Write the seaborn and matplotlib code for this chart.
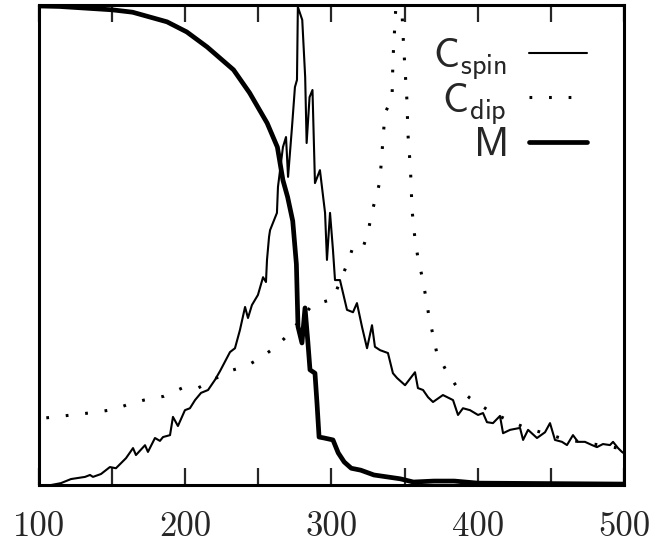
import numpy as np
import pandas as pd
import matplotlib
matplotlib.use("Agg")
import matplotlib.pyplot as plt
import seaborn as sns

# values (y is in arbitrary units, 0..1)
spin_T = [100, 108.2, 115, 121.9, 131.5, 134.9, 136.9, 142.4, 148.5, 152.6, 159.5, 164.3, 166.3,
          172.5, 174.5, 179.3, 182.7, 184.8, 189.6, 191.6, 195, 199.8, 203.2, 206.7, 210.8, 215.6,
          220.3, 223.8, 230.6, 234, 237.4, 240.9, 242.9, 245.6, 249.7, 253.2, 255.2, 255.9, 257.3,
          258, 262.7, 263.4, 266.8, 268.9, 270.3, 273, 275, 276.4, 277, 280, 282, 283, 285, 287,
          288.7, 292.1, 295.6, 296.9, 299, 301, 302.4, 305.8, 310.6, 314.7, 317.4, 320.9, 324.3,
          327.7, 329.7, 333.2, 338.6, 342, 344.8, 350.3, 357.1, 359.1, 362.6, 366, 369.4, 376.2,
          383.1, 386.5, 389.9, 394.7, 400.2, 403.6, 406.3, 410.4, 415.2, 417.3, 422.1, 428.9, 431,
          434.4, 440.5, 446, 449.4, 452.8, 457.6, 461, 465.1, 468.5, 473.3, 478.1, 481.5, 485.6,
          490.4, 492.5, 495.9, 498.6, 500]
spin_C = [0.0, 0.0, 0.004, 0.0125, 0.017, 0.021, 0.017, 0.023, 0.0375, 0.035, 0.056, 0.077, 0.0625,
          0.083, 0.069, 0.098, 0.092, 0.1, 0.104, 0.142, 0.123, 0.156, 0.16, 0.177, 0.192, 0.198,
          0.219, 0.2375, 0.277, 0.285, 0.323, 0.371, 0.348, 0.375, 0.396, 0.433, 0.423, 0.469, 0.517,
          0.531, 0.567, 0.621, 0.704, 0.725, 0.642, 0.746, 0.829, 0.844, 0.996, 0.969, 0.85, 0.7125,
          0.808, 0.823, 0.629, 0.656, 0.567, 0.469, 0.567, 0.49, 0.427, 0.427, 0.365, 0.36, 0.379,
          0.329, 0.285, 0.333, 0.288, 0.281, 0.275, 0.233, 0.223, 0.208, 0.235, 0.202, 0.198, 0.183,
          0.173, 0.1875, 0.177, 0.146, 0.16, 0.156, 0.146, 0.15, 0.131, 0.129, 0.144, 0.108, 0.115,
          0.119, 0.094, 0.115, 0.098, 0.11, 0.129, 0.094, 0.09, 0.0833, 0.104, 0.09, 0.09, 0.0833,
          0.079, 0.0854, 0.0833, 0.09, 0.0771, 0.069, 0.066]

dip_T = [105, 122.6, 139.7, 152, 160, 171.8, 185.5, 197.8, 208.7, 230, 242, 252.5, 262.7, 271.6,
         287.3, 294, 301, 311, 314.7, 321.5, 325, 327.7, 332.5, 333.8, 335.2, 336.6, 341.4, 342,
         343.4, 345.5, 348, 349, 350, 351.6, 352.3, 353.7, 354.4, 355, 357, 359, 362, 364.6, 366.7,
         369.4, 372, 379, 385.8, 394.7, 410, 432, 460, 500]
dip_C = [0.14, 0.146, 0.152, 0.158, 0.167, 0.177, 0.185, 0.202, 0.202, 0.2375, 0.248, 0.267, 0.29,
         0.317, 0.377, 0.381, 0.3875, 0.4625, 0.496, 0.494, 0.527, 0.569, 0.625, 0.6625, 0.72, 0.775,
         0.806, 0.885, 0.9625, 1.08, 1.0, 0.933, 0.88, 0.8, 0.73, 0.671, 0.631, 0.575, 0.515, 0.475,
         0.433, 0.39, 0.35, 0.3125, 0.275, 0.235, 0.204, 0.181, 0.15, 0.12, 0.095, 0.075]

mag_T = [100, 114, 150, 164, 187.5, 201, 215, 233, 244, 256, 263, 266.8, 270, 273.5, 276, 277.1,
         279.8, 281.9, 283.9, 285.3, 288.7, 290.1, 291.5, 295, 301, 304.6, 308.7, 313.5, 320, 329,
         338, 347, 356, 370, 384, 400, 450, 500]
mag_M = [0.998, 0.997, 0.99, 0.985, 0.965, 0.944, 0.9125, 0.865, 0.817, 0.754, 0.704, 0.635, 0.6,
         0.55, 0.46, 0.33, 0.296, 0.369, 0.296, 0.24, 0.233, 0.17, 0.1, 0.098, 0.094, 0.067, 0.048,
         0.035, 0.031, 0.021, 0.017, 0.013, 0.0063, 0.0083, 0.0083, 0.004, 0.003, 0.002]

xtick_vals = [100, 200, 300, 400, 500]
xtick_labels = ["100", "200", "300", "400", "500"]

df_spin = pd.DataFrame({"T": spin_T, "C": spin_C})
df_dip = pd.DataFrame({"T": dip_T, "C": dip_C})
df_mag = pd.DataFrame({"T": mag_T, "C": mag_M})

sns.set_style("white")
plt.rcParams["mathtext.fontset"] = "cm"

fig = plt.figure(figsize=(6.53, 5.45), dpi=100)
ax = fig.add_axes([0.0597, 0.110, 0.8959, 0.8808])

sns.lineplot(data=df_spin, x="T", y="C", ax=ax, color="black", lw=1.5,
             estimator=None, sort=False, label=r"$\mathsf{C_{spin}}$")
sns.lineplot(data=df_dip, x="T", y="C", ax=ax, color="black", lw=2.2,
             estimator=None, sort=False, label=r"$\mathsf{C_{dip}}$",
             dashes=False, linestyle=(0, (0.9, 5.5)))
sns.lineplot(data=df_mag, x="T", y="C", ax=ax, color="black", lw=3.4,
             estimator=None, sort=False, label=r"$\mathsf{M}$")

ax.set_xlim(100, 500)
ax.set_ylim(0, 1)
ax.set_xlabel("")
ax.set_ylabel("")
ax.set_yticks([])

# ticks every 50 on top and bottom, labels every 100
ax.set_xticks(xtick_vals, xtick_labels)
ax.set_xticks(np.arange(150, 500, 100), minor=True)
ax.tick_params(axis="x", which="both", direction="in", length=12, width=1.6,
               top=True, bottom=True, pad=19, labelsize=25)
for lab in ax.get_xticklabels():
    lab.set_family("cmr10")

for sp in ax.spines.values():
    sp.set_linewidth(2.2)
    sp.set_color("black")

leg = ax.legend(loc="upper right", bbox_to_anchor=(0.937, 0.935), frameon=False,
                markerfirst=False, fontsize=29, handlelength=1.45, handletextpad=0.55,
                labelspacing=-0.02, borderpad=0, borderaxespad=0)

fig.savefig("out.png", dpi=100)
